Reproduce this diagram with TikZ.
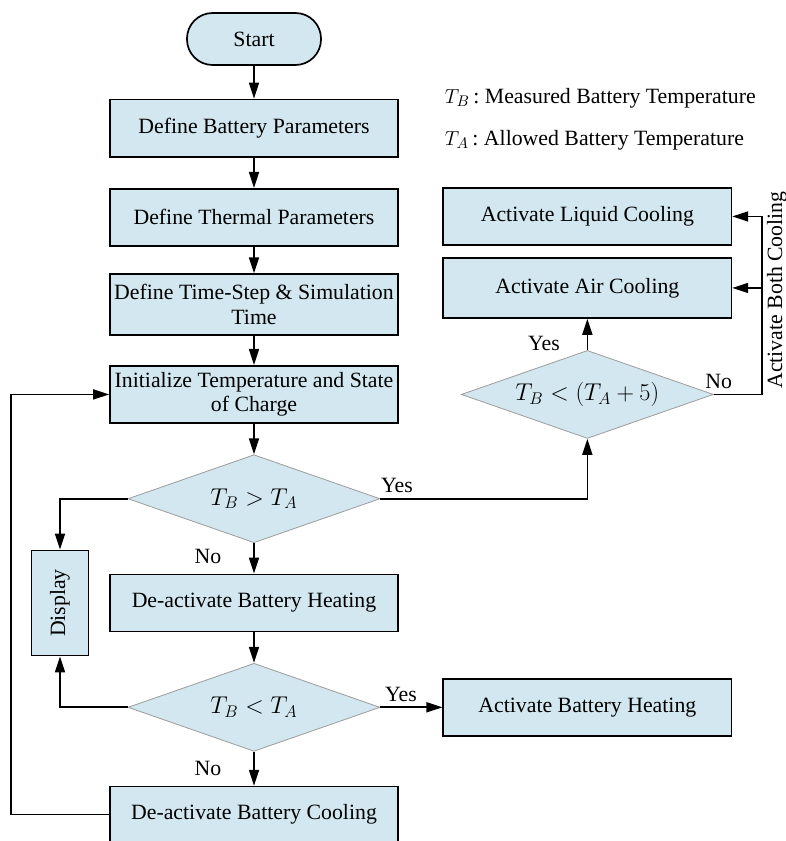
\documentclass[tikz,border=0pt]{standalone}
\usepackage{fontspec}
\setmainfont{Liberation Serif}
\usetikzlibrary{arrows.meta,positioning,shapes.geometric}
\definecolor{boxfill}{RGB}{210,231,239}

\begin{document}
\begin{tikzpicture}[
    x=0.025cm, y=-0.025cm,
    font=\fontsize{15.5}{17.5}\selectfont,
    node distance=0.76cm,
    term/.style={draw, line width=1.2pt, fill=boxfill, rounded corners=0.64cm, minimum width=3.35cm, minimum height=1.3cm},
    box/.style={draw, line width=1.2pt, fill=boxfill, align=center, minimum width=7.2cm, minimum height=1.43cm, inner sep=2pt},
    decision/.style={diamond, aspect=3, draw=gray!75, line width=0.6pt, fill=boxfill, minimum width=6.3cm, minimum height=2.2cm, inner sep=0pt, font=\fontsize{18}{21}\selectfont},
    yesno/.style={font=\fontsize{15.5}{17.5}\selectfont},
    arr/.style={-{Triangle[length=4mm,width=2.5mm]}, line width=1.2pt}
]
\useasboundingbox (0,0) rectangle (785,841);

% main column
\node[term] (start) at (254,39) {Start};
\node[box, below=0.82cm of start] (battery) {Define Battery Parameters};
\node[box, below=of battery] (thermal) {Define Thermal Parameters};
\node[box, below=0.66cm of thermal, minimum height=1.53cm] (timestep) {Define Time-Step \& Simulation\\Time};
\node[box, below=0.72cm of timestep] (init) {Initialize Temperature and State\\of Charge};
\node[decision, below=of init] (hot) {$T_B > T_A$};
\node[box, below=of hot] (heatoff) {De-activate Battery Heating};
\node[decision, below=of heatoff] (cold) {$T_B < T_A$};
\node[box, below=0.85cm of cold, minimum height=1.4cm] (cooloff) {De-activate Battery Cooling};
\node[box, minimum width=1.43cm, minimum height=2.63cm, inner sep=0pt] (display) at (heatoff -| 60,0) {\rotatebox{90}{Display}};

% right side
\node[box, right=1.55cm of cold] (heaton) {Activate Battery Heating};
\node[decision, font=\fontsize{17}{20}\selectfont] (both) at (init -| heaton) {$T_B<\bigl(T_A+5\bigr)$};
\node[box, above=0.78cm of both, minimum height=1.5cm] (air) {Activate Air Cooling};
\node[box, above=0.28cm of air] (liquid) {Activate Liquid Cooling};
\node[rotate=90] (bothtxt) at (777,290) {Activate Both Cooling};
\coordinate (bend) at (762,0);

% legend
\node[anchor=west] (legB) at (440,98) {$T_B$\,:\ Measured Battery Temperature};
\node[anchor=west] (legA) at (440,140) {$T_A$\,:\ Allowed Battery Temperature};

\draw[arr] (start) -- (battery);
\draw[arr] (battery) -- (thermal);
\draw[arr] (thermal) -- (timestep);
\draw[arr] (timestep) -- (init);
\draw[arr] (init) -- (hot);
\draw[arr] (hot) -- node[yesno, left=0.68cm, pos=0.45]{No} (heatoff);
\draw[arr] (heatoff) -- (cold);
\draw[arr] (cold) -- node[yesno, left=0.68cm, pos=0.5]{No} (cooloff);
\draw[arr] (cold) -- node[yesno, above, pos=0.33]{Yes} (heaton);
\draw[arr] (hot.east) -| node[yesno, above, pos=0.04]{Yes} (both.south);
\draw[arr] (both) -- node[yesno, left=0.55cm, pos=0.2]{Yes} (air);
\draw[arr] (both.east) -| node[yesno, above, pos=0.05]{No} (bend |- liquid.east) -- (liquid.east);
\draw[arr] (bend |- air.east) -- (air.east);
\draw[arr] (hot.west) -| (display.north);
\draw[arr] (cold.west) -| (display.south);
\draw[arr] (cooloff.west) -- ++(-98,0) |- (init.west);
\end{tikzpicture}
\end{document}
